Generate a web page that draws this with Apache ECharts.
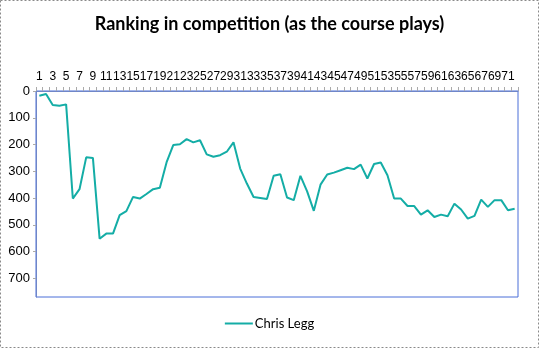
<!DOCTYPE html>
<html><head><meta charset="utf-8">
<script src="https://cdn.jsdelivr.net/npm/echarts@6/dist/echarts.min.js"></script>
<style>html,body{margin:0;padding:0;background:#fff}#c{width:539px;height:348px}</style>
</head><body><div id="c"></div>
<script>
const titleText = 'Ranking in competition (as the course plays)';
const seriesName = 'Chris Legg';
const holes = Array.from({length: 72}, (_, i) => String(i + 1));
const ranks = [18, 11, 52, 55, 50, 402, 367, 248, 250, 552,
  533, 533, 464, 449, 396, 402, 385, 367, 362, 267,
  202, 199, 180, 192, 184, 237, 246, 240, 227, 192,
  290, 346, 396, 400, 404, 317, 311, 398, 408, 317,
  375, 448, 350, 312, 305, 296, 287, 292, 275, 327,
  273, 267, 315, 402, 402, 430, 430, 462, 446, 471,
  462, 468, 421, 443, 477, 467, 406, 433, 408, 408,
  446, 440];
const yTicks = [0, 100, 200, 300, 400, 500, 600, 700];

const chart = echarts.init(document.getElementById('c'), null, {renderer: 'canvas'});
chart.setOption({
  animation: false,
  backgroundColor: '#fff',
  title: {
    text: titleText, left: 'center', top: 10,
    textStyle: {fontFamily: 'Lato', fontWeight: 'bold', fontSize: 18, color: '#000'}
  },
  graphic: [{
    type: 'rect', shape: {x: 0.5, y: 0.5, width: 538, height: 347},
    style: {fill: 'none', stroke: '#8a8a8a', lineWidth: 1, lineDash: [2, 2]}
  }],
  legend: {
    bottom: 13, left: 'center', icon: 'rect', itemWidth: 28, itemHeight: 2,
    itemGap: 4,
    textStyle: {fontFamily: 'Lato', fontSize: 13, color: '#000', padding: [0, 0, 0, -3]},
    data: [seriesName]
  },
  grid: {left: 36, right: 21, top: 91, bottom: 51,
    show: true, borderColor: '#4a6fd8', borderWidth: 1},
  xAxis: {
    type: 'category', position: 'top', data: holes, boundaryGap: true,
    axisLine: {show: true, lineStyle: {color: '#6f86c8', width: 1}},
    axisTick: {show: true, interval: 0, length: 4, lineStyle: {color: '#aaa'}},
    axisLabel: {interval: 1, fontFamily: 'Liberation Sans', fontSize: 12, color: '#000', margin: 8}
  },
  yAxis: {
    type: 'value', inverse: true, min: 0, max: 770, interval: 100,
    axisLine: {show: true, lineStyle: {color: '#6f86c8'}},
    axisTick: {show: true, length: 3, lineStyle: {color: '#aaa'}},
    splitLine: {show: false},
    axisLabel: {showMaxLabel: false, fontFamily: 'Liberation Sans', fontSize: 13, color: '#000', margin: 6,
      formatter: v => yTicks.includes(v) ? String(v) : ''}
  },
  series: [{
    name: seriesName, type: 'line', data: ranks, showSymbol: false, symbol: 'none',
    lineStyle: {color: '#14ada6', width: 2}, itemStyle: {color: '#14ada6'}
  }]
});
</script></body></html>
